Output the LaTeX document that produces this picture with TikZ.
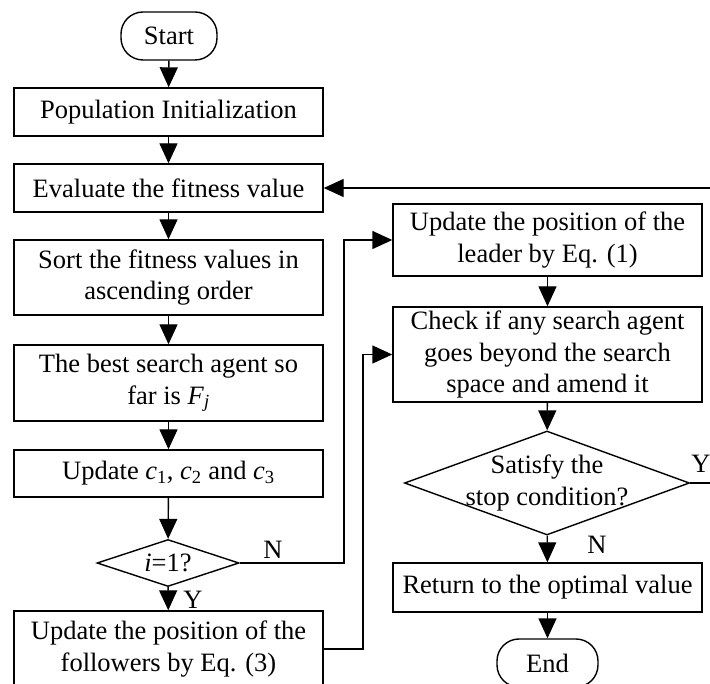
\documentclass[tikz,border=0pt]{standalone}
\usepackage{fontspec}
\setmainfont{Liberation Serif}
\usetikzlibrary{shapes.geometric,arrows.meta}

\begin{document}
\begin{tikzpicture}[x=1pt,y=-1pt,
  font=\fontsize{26.5}{31.5}\selectfont,
  line width=1.4pt,
  box/.style={draw, rectangle, inner sep=0pt, align=center, minimum width=309pt},
  term/.style={draw, rectangle, rounded corners=22pt, inner sep=0pt, minimum height=48pt},
  cond/.style={draw, diamond, inner sep=0pt},
  flow/.style={-{Triangle[length=20pt,width=18pt]}},
  tag/.style={inner sep=0pt}]
\useasboundingbox (0,0) rectangle (710,684);
\clip (0,0) rectangle (710,684);

% left column
\node[term, minimum width=96pt] (start) at (169,36) {Start};
\node[box, minimum height=48pt] (pop) at (168.5,112) {Population Initialization};
\node[box, minimum height=48pt] (eval) at (168.5,188) {Evaluate the fitness value};
\node[box, minimum height=75pt] (sort) at (168.5,277.5) {Sort the fitness values in\\ascending order};
\node[box, minimum height=76pt] (best) at (168.5,383) {The best search agent so\\far is \textit{F}\textsubscript{\textit{j}}};
\node[box, minimum height=47pt] (coef) at (168.5,473.5) {Update \textit{c}\textsubscript{1}, \textit{c}\textsubscript{2} and \textit{c}\textsubscript{3}};
\node[cond, minimum width=142pt, minimum height=47pt,
      label={[tag]center:\textit{i}=1?}] (first) at (168,563) {};
\node[box, minimum height=76pt] (follow) at (168.5,649) {Update the position of the\\followers by Eq. (3)};

% right column
\node[box, minimum height=72pt] (leader) at (547.5,240) {Update the position of the\\leader by Eq. (1)};
\node[box, minimum height=95pt] (check) at (547.5,354.5) {Check if any search agent\\goes beyond the search\\space and amend it};
\node[cond, minimum width=285pt, minimum height=104pt,
      label={[tag, align=center]center:Satisfy the\\stop condition?}] (stop) at (547,483) {};
\node[box, minimum height=49pt] (ret) at (547.5,587.5) {Return to the optimal value};
\node[term, minimum width=101pt] (end) at (547.5,663) {End};

% branch labels
\node[tag] (firstno) at (273,550) {N};
\node[tag] (firstyes) at (193,600) {Y};
\node[tag] (stopyes) at (701,464) {Y};
\node[tag] (stopno) at (597,545) {N};

% bend points
\coordinate (nbend) at (344,563);
\coordinate (fbend) at (363,649);
\coordinate (ybend) at (725,483);

% main flow
\draw[flow] (start) -- (pop);
\draw[flow] (pop) -- (eval);
\draw[flow] (eval) -- (sort);
\draw[flow] (sort) -- (best);
\draw[flow] (best) -- (coef);
\draw[flow] (coef) -- (first);
\draw[flow] (first) -- (follow);
\draw[flow] (first.east) -- (nbend) |- (leader.west);
\draw[flow] (follow.east) -- (fbend) |- (check.west);
\draw[flow] (leader) -- (check);
\draw[flow] (check) -- (stop);
\draw[flow] (stop) -- (ret);
\draw[flow] (ret) -- (end);
\draw[flow] (stop.east) -- (ybend) |- (eval.east);
\end{tikzpicture}
\end{document}
